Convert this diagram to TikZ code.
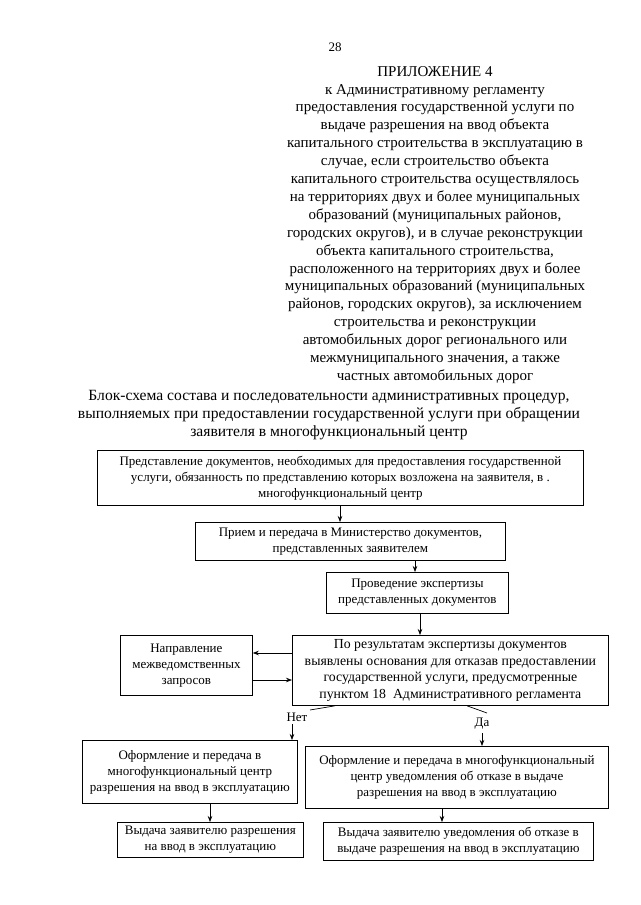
\documentclass[tikz,border=0pt]{standalone}
\usepackage{fontspec}
\setmainfont{Liberation Serif}
\usetikzlibrary{arrows.meta}
\begin{document}
\begin{tikzpicture}[x=1pt,y=-1pt,
  box/.style={draw, line width=0.8pt, align=center, font=\fontsize{13}{16}\selectfont, inner sep=0pt, anchor=north west},
  arr/.style={-{Stealth[length=6pt,width=4.5pt]}, line width=0.7pt},
  plain/.style={line width=0.7pt},
  hdr/.style={align=center, font=\fontsize{15}{17.9}\selectfont, inner sep=0pt},
  lbl/.style={font=\fontsize{13}{14}\selectfont, inner sep=0pt}]
\useasboundingbox[fill=white] (0,0) rectangle (640,905);

\node[lbl] (pg) at (335,47) {28};
\node[hdr, anchor=north] (hd) at (435,66) {ПРИЛОЖЕНИЕ 4\\
к Административному регламенту\\
предоставления государственной услуги по\\
выдаче разрешения на ввод объекта\\
капитального строительства в эксплуатацию в\\
случае, если строительство объекта\\
капитального строительства осуществлялось\\
на территориях двух и более муниципальных\\
образований (муниципальных районов,\\
городских округов), и в случае реконструкции\\
объекта капитального строительства,\\
расположенного на территориях двух и более\\
муниципальных образований (муниципальных\\
районов, городских округов), за исключением\\
строительства и реконструкции\\
автомобильных дорог регионального или\\
межмуниципального значения, а также\\
частных автомобильных дорог};

\node[hdr, anchor=north, font=\fontsize{15.6}{18}\selectfont] (tt) at (329,390) {Блок-схема состава и последовательности административных процедур,\\
выполняемых при предоставлении государственной услуги при обращении\\
заявителя в многофункциональный центр};

\node[box, minimum width=486, minimum height=55] (b1) at (97,450) {Представление документов, необходимых для предоставления государственной\\
услуги, обязанность по представлению которых возложена на заявителя, в .\\
многофункциональный центр};
\node[box, minimum width=310, minimum height=38] (b2) at (195,522) {Прием и передача в Министерство документов,\\
представленных заявителем};
\node[box, minimum width=182, minimum height=41] (b3) at (326,572) {Проведение экспертизы\\
представленных документов};
\node[box, minimum width=316, minimum height=70, font=\fontsize{13.8}{16.5}\selectfont] (b4) at (292,635) {По результатам экспертизы документов\\
выявлены основания для отказав предоставлении\\
государственной услуги, предусмотренные\\
пунктом 18~ Административного регламента};
\node[box, minimum width=132, minimum height=60] (b5) at (120,635) {Направление\\
межведомственных\\
запросов};
\node[box, minimum width=215, minimum height=63] (b6) at (82,740) {Оформление и передача в\\
многофункциональный центр\\
разрешения на ввод в эксплуатацию};
\node[box, minimum width=303, minimum height=62] (b7) at (305,746) {Оформление и передача в многофункциональный\\
центр уведомления об отказе в выдаче\\
разрешения на ввод в эксплуатацию};
\node[box, minimum width=186, minimum height=35] (b8) at (117,822) {Выдача заявителю разрешения\\
на ввод в эксплуатацию};
\node[box, minimum width=270, minimum height=38] (b9) at (323,822) {Выдача заявителю уведомления об отказе в\\
выдаче разрешения на ввод в эксплуатацию};

\coordinate (xa) at (340,0);
\coordinate (xb) at (415,0);
\coordinate (xc) at (420,0);
\coordinate (ya) at (0,653);
\coordinate (yb) at (0,680);
\coordinate (xn) at (335,0);
\coordinate (xd) at (467,0);
\coordinate (xe) at (210,0);
\coordinate (xf) at (442,0);

\draw[arr] (xa |- b1.south) -- (xa |- b2.north);
\draw[arr] (xb |- b2.south) -- (xb |- b3.north);
\draw[arr] (xc |- b3.south) -- (xc |- b4.north);
\draw[arr] (b4.west |- ya) -- (b5.east |- ya);
\draw[arr] (b5.east |- yb) -- (b4.west |- yb);

\coordinate (n1) at (310,710);
\node[lbl] (net) at (297,717) {Нет};
\coordinate (n2) at (292,724);
\draw[plain] (xn |- b4.south) -- (n1);
\draw[arr] (n2) -- (n2 |- b6.north);

\coordinate (d1) at (487,713);
\node[lbl] (da) at (482,724) {Да};
\coordinate (d2) at (482,733);
\draw[plain] (xd |- b4.south) -- (d1);
\draw[arr] (d2) -- (d2 |- b7.north);

\draw[arr] (xe |- b6.south) -- (xe |- b8.north);
\draw[arr] (xf |- b7.south) -- (xf |- b9.north);
\end{tikzpicture}
\end{document}
